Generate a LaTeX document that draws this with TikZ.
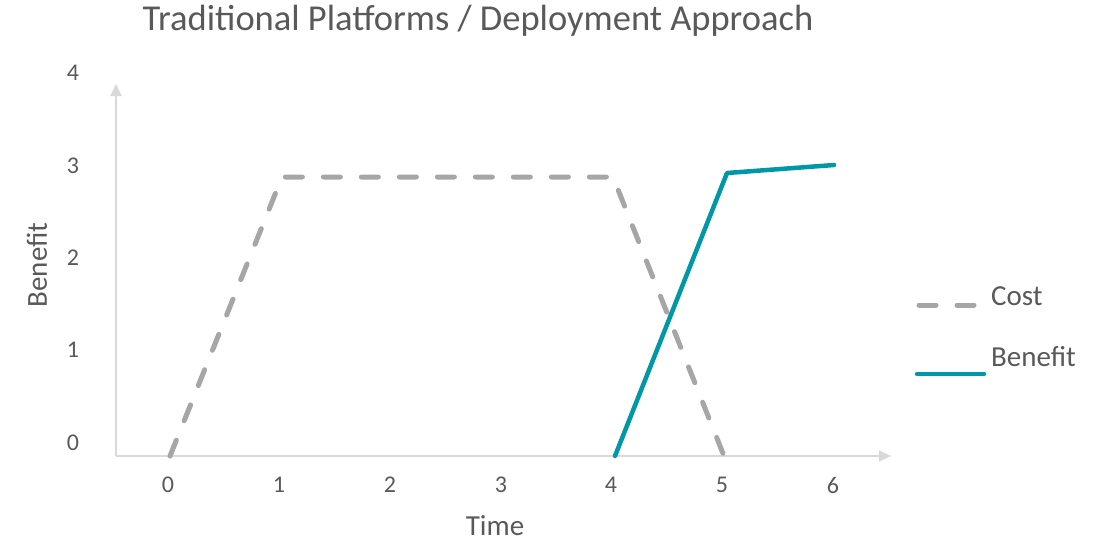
\documentclass[tikz,border=0pt]{standalone}
\usepackage{fontspec}
\setmainfont{Carlito}
\usetikzlibrary{arrows.meta}
\definecolor{txt}{HTML}{595959}
\definecolor{axisc}{HTML}{D9D9D9}
\definecolor{costc}{HTML}{A6A6A6}
\definecolor{benc}{HTML}{0097A7}
\begin{document}
\begin{tikzpicture}[x=1pt,y=-1pt,
  axisline/.style={draw=axisc,line width=2pt,-{Triangle[length=12pt,width=11pt]}},
  costline/.style={draw=costc,line width=5pt,line cap=round,line join=round,dash pattern=on 17pt off 21pt},
  benline/.style={draw=benc,line width=4.5pt,line cap=round,line join=round},
  ticklbl/.style={text=txt,font=\fontsize{24}{27}\selectfont,inner sep=0pt},
  axtitle/.style={text=txt,font=\fontsize{29}{32}\selectfont,inner sep=0pt},
  legtxt/.style={text=txt,font=\fontsize{29}{32}\selectfont,inner sep=0pt,anchor=west},
  titletxt/.style={text=txt,font=\fontsize{36.5}{39}\selectfont,inner sep=0pt}]
\useasboundingbox (0,0) rectangle (1107,542);
% title
\node[titletxt] (title) at (478,21) {Traditional Platforms / Deployment Approach};
% axes
\coordinate (o) at (116,456);
\coordinate (ytop) at (116,84);
\coordinate (xend) at (891,456);
\draw[axisline] (o) -- (ytop);
\draw[axisline] (o) -- (xend);
% y tick labels
\node[ticklbl] (y0) at (73,443) {0};
\node[ticklbl] (y1) at (73,350) {1};
\node[ticklbl] (y2) at (73,258) {2};
\node[ticklbl] (y3) at (73,166) {3};
\node[ticklbl] (y4) at (73,73) {4};
% x tick labels
\node[ticklbl] (x0) at (168,485) {0};
\node[ticklbl] (x1) at (279,485) {1};
\node[ticklbl] (x2) at (390,485) {2};
\node[ticklbl] (x3) at (501,485) {3};
\node[ticklbl] (x4) at (611,485) {4};
\node[ticklbl] (x5) at (722,485) {5};
\node[ticklbl] (x6) at (833,485) {6};
% axis titles
\node[axtitle] (xt) at (495,526) {Time};
\node[axtitle,rotate=90] (yt) at (37,265) {Benefit};
% data
\coordinate (c0) at (170,456);
\coordinate (c1) at (282,177);
\coordinate (c2) at (613,177);
\coordinate (c3) at (724,456);
\draw[costline] (c0) -- (c1) -- (c2) -- (c3);
\coordinate (b0) at (615,456);
\coordinate (b1) at (727,173);
\coordinate (b2) at (834,165);
\draw[benline] (b0) -- (b1) -- (b2);
% legend
\coordinate (lc0) at (919,305);
\coordinate (lc1) at (981,305);
\draw[costline] (lc0) -- (lc1);
\node[legtxt] (lct) at (991,296) {Cost};
\coordinate (lb0) at (917,374);
\coordinate (lb1) at (984,374);
\draw[benline] (lb0) -- (lb1);
\node[legtxt] (lbt) at (991,357) {Benefit};
\end{tikzpicture}
\end{document}
